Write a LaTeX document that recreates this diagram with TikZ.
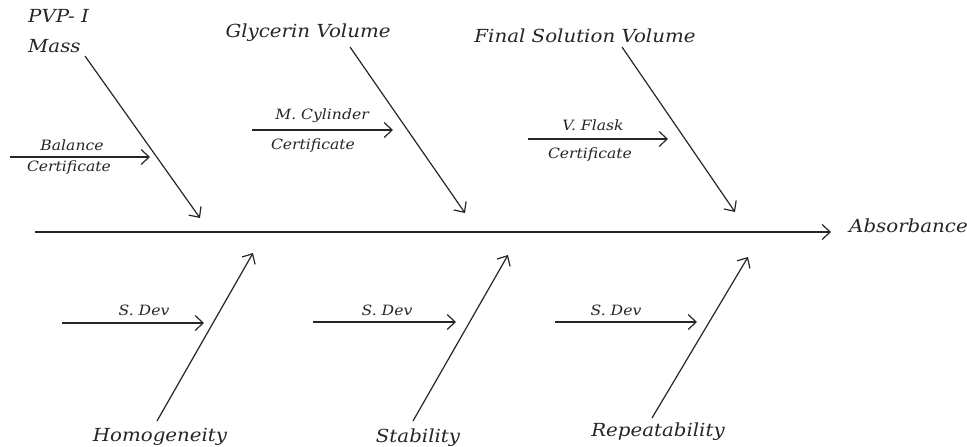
\documentclass[tikz,border=0pt]{standalone}
\usepackage{fontspec}
\setmainfont{DejaVu Serif}
\newfontfamily\lblfont[FakeStretch=1.1]{DejaVu Serif}
\usetikzlibrary{arrows.meta}
\begin{document}
\begin{tikzpicture}[x=1pt,y=-1pt,
  arr/.style={line width=1.2pt,draw=black!85,-{Straight Barb[length=8pt,width=15pt,line width=1.2pt]}},
  big/.style={font=\lblfont\itshape\fontsize{18}{19}\selectfont,inner sep=0pt,text=black!85},
  small/.style={font=\lblfont\itshape\fontsize{14.2}{15}\selectfont,inner sep=0pt,text=black!85}]
\useasboundingbox (0,0) rectangle (967,447);
% spine
\coordinate (s0) at (35,232);
\node[big,anchor=west] (abs) at (849,226) {Absorbance};
\coordinate (s1) at (831,232);
\draw[arr] (s0) -- (s1);
% top branches
\node[big,anchor=west] (pvp) at (28,16) {PVP- I};
\node[big,anchor=west] (mass) at (28,46) {Mass};
\coordinate (m0) at (85,56); \coordinate (m1) at (200,218);
\draw[arr] (m0) -- (m1);
\coordinate (b0) at (10,157); \coordinate (b1) at (150,157);
\draw[arr] (b0) -- (b1);
\node[small] (bal) at (72,145) {Balance};
\node[small] (bcert) at (69,168) {Certificate};

\node[big] (gly) at (308,33) {Glycerin Volume};
\coordinate (g0) at (350,47); \coordinate (g1) at (465,213);
\draw[arr] (g0) -- (g1);
\coordinate (c0) at (252,130); \coordinate (c1) at (393,130);
\draw[arr] (c0) -- (c1);
\node[small] (mcyl) at (322,116) {M. Cylinder};
\node[small] (ccert) at (313,146) {Certificate};

\node[big] (fin) at (585,36) {Final Solution Volume};
\coordinate (f0) at (622,47); \coordinate (f1) at (735,212);
\draw[arr] (f0) -- (f1);
\coordinate (v0) at (528,139); \coordinate (v1) at (668,139);
\draw[arr] (v0) -- (v1);
\node[small] (vfl) at (593,125) {V. Flask};
\node[small] (vcert) at (590,155) {Certificate};

% bottom branches
\node[big] (hom) at (160,437) {Homogeneity};
\coordinate (h0) at (157,421); \coordinate (h1) at (253,253);
\draw[arr] (h0) -- (h1);
\coordinate (d0) at (62,323); \coordinate (d1) at (204,323);
\draw[arr] (d0) -- (d1);
\node[small] (sd1) at (144,310) {S. Dev};

\node[big] (stab) at (418,438) {Stability};
\coordinate (t0) at (413,421); \coordinate (t1) at (508,255);
\draw[arr] (t0) -- (t1);
\coordinate (e0) at (313,322); \coordinate (e1) at (456,322);
\draw[arr] (e0) -- (e1);
\node[small] (sd2) at (387,310) {S. Dev};

\node[big] (rep) at (658,432) {Repeatability};
\coordinate (r0) at (652,418); \coordinate (r1) at (748,257);
\draw[arr] (r0) -- (r1);
\coordinate (k0) at (555,322); \coordinate (k1) at (697,322);
\draw[arr] (k0) -- (k1);
\node[small] (sd3) at (616,310) {S. Dev};
\end{tikzpicture}
\end{document}
